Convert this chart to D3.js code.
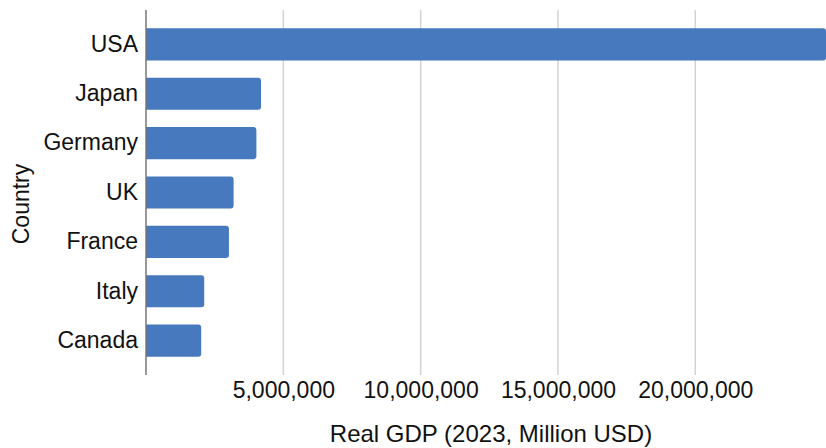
<!DOCTYPE html>
<html>
<head>
<meta charset="utf-8">
<script src="https://cdn.jsdelivr.net/npm/d3@7"></script>
<style>
  html, body { margin: 0; padding: 0; background: #fff; }
  svg { display: block; font-family: "Liberation Sans", Arial, sans-serif; }
</style>
</head>
<body>
<svg id="chart" width="826" height="448"></svg>
<script>
const countries = ["USA", "Japan", "Germany", "UK", "France", "Italy", "Canada"];
const gdpValues = [24760000, 4190000, 4020000, 3190000, 3020000, 2120000, 2010000];
const xTickValues = [5000000, 10000000, 15000000, 20000000];
const xTitle = "Real GDP (2023, Million USD)";
const yTitle = "Country";

const data = countries.map((c, i) => ({ country: c, value: gdpValues[i] }));

const svg = d3.select("#chart");
const mLeft = 146, mRight = 826, mTop = 10, mBottom = 375;

const x = d3.scaleLinear().domain([0, d3.max(gdpValues)]).range([mLeft, mRight]);
const y = d3.scaleBand().domain(countries).range([mTop, mBottom]).paddingInner(0.35).paddingOuter(0.37);

// gridlines
svg.append("g").selectAll("line").data(xTickValues).join("line")
  .attr("x1", d => x(d)).attr("x2", d => x(d))
  .attr("y1", mTop).attr("y2", mBottom)
  .attr("stroke", "#d3d3d3").attr("stroke-width", 1.5);

// bars with rounded right corners
const r = 3;
svg.append("g").selectAll("path").data(data).join("path")
  .attr("fill", "#4779bf")
  .attr("d", d => {
    const x0 = x(0), x1 = x(d.value), y0 = y(d.country), h = y.bandwidth();
    const rr = Math.min(r, (x1 - x0) / 2);
    return `M${x0},${y0}H${x1 - rr}Q${x1},${y0} ${x1},${y0 + rr}V${y0 + h - rr}Q${x1},${y0 + h} ${x1 - rr},${y0 + h}H${x0}Z`;
  });

// x axis (labels only)
const xAxis = svg.append("g").attr("transform", `translate(0,${mBottom})`)
  .call(d3.axisBottom(x).tickValues(xTickValues).tickFormat(d3.format(",")).tickSize(0).tickPadding(7));
xAxis.select(".domain").remove();
xAxis.selectAll("text").attr("font-size", 23).attr("fill", "#111").attr("font-family", "Liberation Sans, Arial, sans-serif");

// y axis
const yAxis = svg.append("g").attr("transform", `translate(${mLeft},0)`)
  .call(d3.axisLeft(y).tickSize(0).tickPadding(8));
yAxis.select(".domain").remove();
yAxis.selectAll("text").attr("font-size", 23).attr("fill", "#111").attr("font-family", "Liberation Sans, Arial, sans-serif");

svg.append("line")
  .attr("x1", mLeft).attr("x2", mLeft).attr("y1", mTop).attr("y2", mBottom)
  .attr("stroke", "#777").attr("stroke-width", 1.5);

// titles
svg.append("text")
  .attr("x", (mLeft + mRight) / 2 + 5).attr("y", 442)
  .attr("text-anchor", "middle").attr("font-size", 24).attr("fill", "#111")
  .text(xTitle);

svg.append("text")
  .attr("transform", `translate(29,204) rotate(-90)`)
  .attr("text-anchor", "middle").attr("font-size", 23).attr("fill", "#111")
  .text(yTitle);
</script>
</body>
</html>
